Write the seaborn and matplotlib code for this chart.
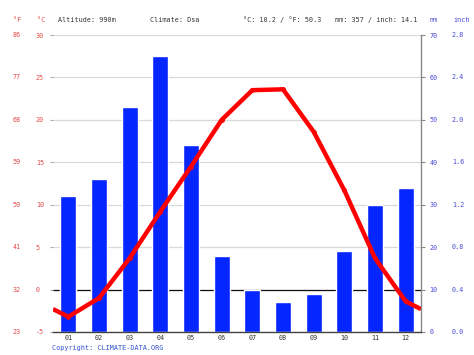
import pandas as pd
import seaborn as sns
import matplotlib.pyplot as plt

# Monatswerte
months = ['01', '02', '03', '04', '05', '06', '07', '08', '09', '10', '11', '12']
precip_mm = [32, 36, 53, 65, 44, 18, 10, 7, 9, 19, 30, 34]
temp_c = [-3.2, -1.0, 3.7, 9.2, 14.5, 20.0, 23.5, 23.6, 18.6, 11.7, 3.7, -1.4]

# Achsenbeschriftungen
c_ticks = [-5, 0, 5, 10, 15, 20, 25, 30]
f_labels = ['23', '32', '41', '50', '59', '68', '77', '86']
mm_ticks = [0, 10, 20, 30, 40, 50, 60, 70]
inch_labels = ['0.0', '0.4', '0.8', '1.2', '1.6', '2.0', '2.4', '2.8']

red = '#ff0000'
bar_blue = '#0626ff'
lab_red = '#e24a4a'
lab_blue = '#4a4ad6'
txt = '#333333'

sns.set_style('white')
plt.rcParams['font.family'] = ['DejaVu Sans Mono', 'DejaVu Sans']
fs = 4.9

df = pd.DataFrame({'month': months, 'mm': precip_mm, 'temp': temp_c})

fig = plt.figure(figsize=(4.74, 3.55), dpi=100)
ax_t = fig.add_axes([53 / 474, 1 - 332 / 355, 368 / 474, 297 / 355])
ax_p = ax_t.twinx()
ax_t.set_zorder(ax_p.get_zorder() + 1)
ax_t.patch.set_visible(False)

# Niederschlag
sns.barplot(data=df, x='month', y='mm', color=bar_blue, saturation=1, width=0.52,
            ax=ax_p, zorder=2)
ax_p.set_ylim(0, 70)
ax_p.set_xlim(-0.5, 11.5)
ax_p.set_yticks(mm_ticks)
ax_p.set_yticklabels([str(v) for v in mm_ticks], color=lab_blue, fontsize=fs)
ax_p.tick_params(axis='y', direction='out', length=3, width=0.8, color='#888888', pad=3)
for lab in ax_p.get_yticklabels():
    lab.set_horizontalalignment('left')
ax_p.grid(axis='y', color='#d9d9d9', lw=0.9, zorder=0)
ax_p.set_axisbelow(True)
# Nulllinie (0 °C = 10 mm) hinter den Balken
ax_p.axhline(10, color='#111111', lw=0.9, zorder=1.5)
ax_p.set_xlabel('')
ax_p.set_ylabel('')
for s in ['left', 'top', 'bottom']:
    ax_p.spines[s].set_visible(False)
ax_p.spines['right'].set_color('#888888')
ax_p.spines['right'].set_linewidth(1)

# Temperatur, Linie bis an den Rand (Mittel Dez/Jan)
edge = (temp_c[0] + temp_c[-1]) / 2
line_x = [-0.5] + list(range(12)) + [11.5]
line_y = [edge] + temp_c + [edge]
sns.lineplot(x=line_x, y=line_y, color=red, lw=3.2, ax=ax_t, zorder=4,
             solid_joinstyle='round', solid_capstyle='butt')
sns.scatterplot(x=list(range(12)), y=temp_c, color=red, s=12, linewidth=0,
                ax=ax_t, zorder=5)
ax_t.set_ylim(-5, 30)
ax_t.set_xlim(-0.5, 11.5)
ax_t.set_yticks(c_ticks)
ax_t.set_yticklabels([str(v) for v in c_ticks], color=lab_red, fontsize=fs)
for lab in ax_t.get_yticklabels():
    lab.set_horizontalalignment('left')
ax_t.tick_params(axis='y', direction='out', length=2.5, width=0.8, color='#aaaaaa', pad=9.8)
ax_t.set_xticks(range(12))
ax_t.set_xticklabels(months, color=txt, fontsize=fs)
ax_t.tick_params(axis='x', length=0, pad=2.5)
ax_t.set_xticks([i - 0.5 for i in range(1, 12)], minor=True)
ax_t.tick_params(axis='x', which='minor', direction='out', length=2, width=0.8, color='#555555')
for s in ['left', 'top', 'right']:
    ax_t.spines[s].set_visible(False)
ax_t.spines['bottom'].set_color('#444444')
ax_t.spines['bottom'].set_linewidth(1)
ax_t.set_ylabel('')

# Fahrenheit- und Zoll-Spalten
for v, lab in zip(c_ticks, f_labels):
    ax_t.text(-0.1087, v, lab, transform=ax_t.get_yaxis_transform(), color=lab_red,
              fontsize=fs, ha='left', va='center')
for v, lab in zip(mm_ticks, inch_labels):
    ax_p.text(1.0842, v, lab, transform=ax_p.get_yaxis_transform(), color=lab_blue,
              fontsize=fs, ha='left', va='center')

# Kopfzeile
hy = 1 - 20 / 355
fig.text(13 / 474, hy, '°F', color=lab_red, fontsize=fs, va='center')
fig.text(37 / 474, hy, '°C', color=lab_red, fontsize=fs, va='center')
fig.text(58 / 474, hy, 'Altitude: 990m', color=txt, fontsize=fs, va='center')
fig.text(150 / 474, hy, 'Climate: Dsa', color=txt, fontsize=fs, va='center')
fig.text(243 / 474, hy, '°C: 10.2 / °F: 50.3', color=txt, fontsize=fs, va='center')
fig.text(335 / 474, hy, 'mm: 357 / inch: 14.1', color=txt, fontsize=fs, va='center')
fig.text(430 / 474, hy, 'mm', color=lab_blue, fontsize=fs, va='center')
fig.text(453 / 474, hy, 'inch', color=lab_blue, fontsize=fs, va='center')
fig.text(52 / 474, 1 - 348 / 355, 'Copyright: CLIMATE-DATA.ORG', color='#3050d0',
         fontsize=fs, va='center')

fig.savefig('out.png', dpi=100)
